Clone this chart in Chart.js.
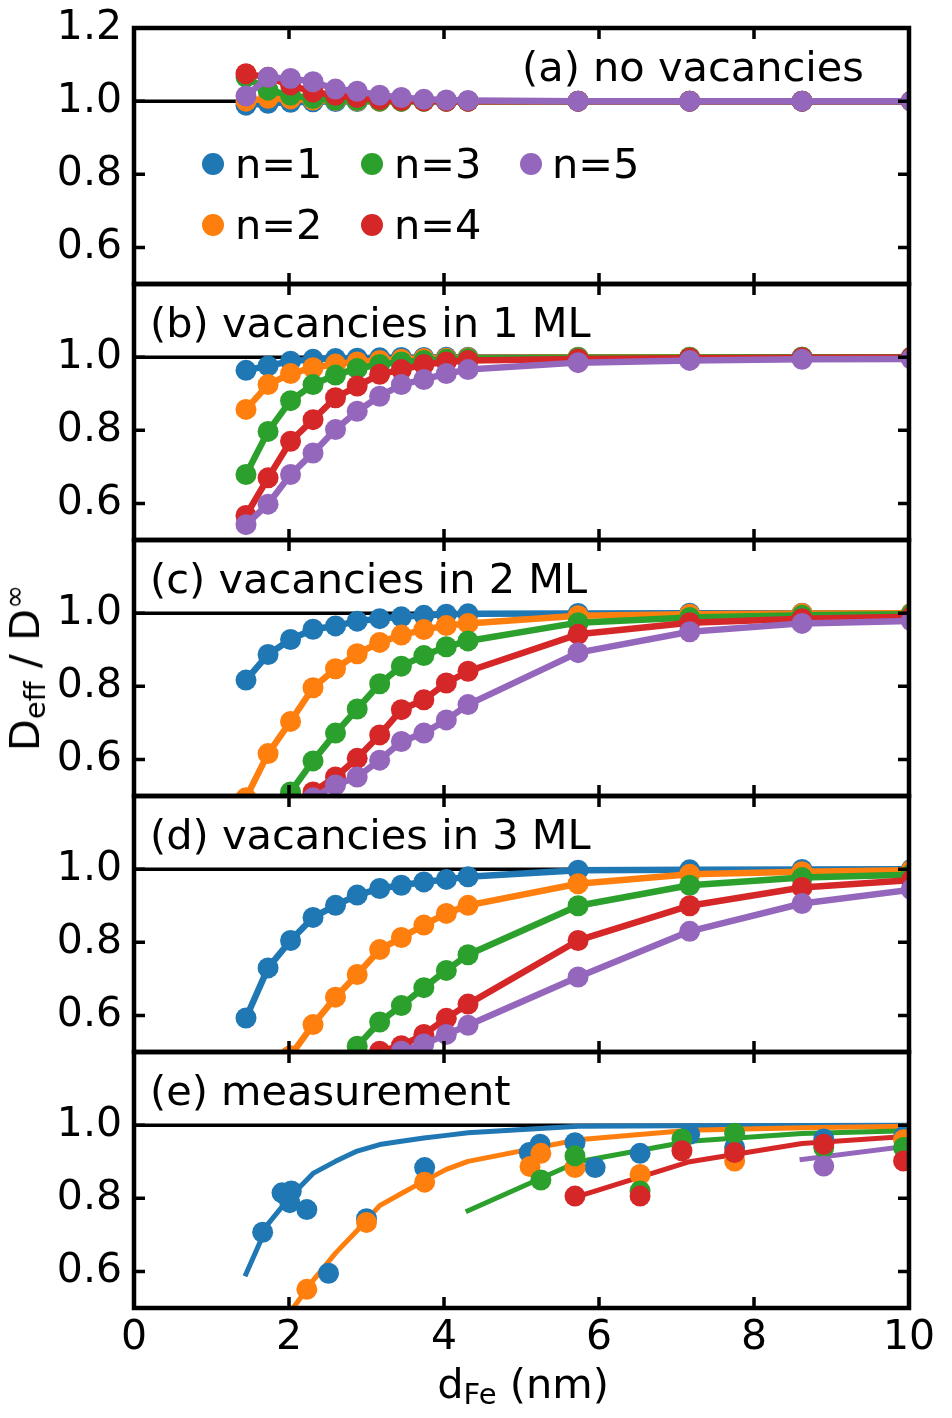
<!DOCTYPE html>
<html>
<head>
<meta charset="utf-8">
<script src="https://cdn.jsdelivr.net/npm/chart.js@4.4.1/dist/chart.umd.min.js"></script>
<style>
  html, body { margin:0; padding:0; background:#fff; }
  body { width:952px; height:1418px; position:relative; overflow:hidden; font-family:'DejaVu Sans'; color:#000; }
  canvas { position:absolute; left:0; top:0; }
  .txt { position:absolute; font-size:41.5px; line-height:42px; white-space:nowrap; z-index:10; }
  .dot { position:absolute; width:22px; height:22px; border-radius:50%; z-index:10; }
  .sub { position:relative; top:0.22em; font-size:0.7em; }
  .sup { position:relative; top:-0.5em; font-size:0.7em; }
</style>
</head>
<body>
<canvas id="ca" width="952" height="1418"></canvas>
<canvas id="cb" width="952" height="1418"></canvas>
<canvas id="cc" width="952" height="1418"></canvas>
<canvas id="cd" width="952" height="1418"></canvas>
<canvas id="ce" width="952" height="1418"></canvas>

<div class="txt" style="right:88px; top:46px;">(a) no vacancies</div>
<div class="txt" style="left:150px; top:302px;">(b) vacancies in 1 ML</div>
<div class="txt" style="left:150px; top:558px;">(c) vacancies in 2 ML</div>
<div class="txt" style="left:150px; top:814px;">(d) vacancies in 3 ML</div>
<div class="txt" style="left:150px; top:1070px;">(e) measurement</div>

<div class="dot" style="left:202px; top:153px; background:#1f77b4;"></div>
<div class="txt" style="left:235px; top:143px;">n=1</div>
<div class="dot" style="left:361px; top:153px; background:#2ca02c;"></div>
<div class="txt" style="left:394px; top:143px;">n=3</div>
<div class="dot" style="left:520px; top:153px; background:#9467bd;"></div>
<div class="txt" style="left:552px; top:143px;">n=5</div>
<div class="dot" style="left:202px; top:214px; background:#ff7f0e;"></div>
<div class="txt" style="left:235px; top:204px;">n=2</div>
<div class="dot" style="left:361px; top:214px; background:#d62728;"></div>
<div class="txt" style="left:394px; top:204px;">n=4</div>

<div class="txt" style="left:523px; top:1363px; transform:translateX(-50%);">d<span class="sub">Fe</span> (nm)</div>
<div class="txt" style="left:27px; top:668px; transform:translate(-50%,-50%) rotate(-90deg);">D<span class="sub">eff</span> / D<span class="sup">∞</span></div>

<script>
// ---------------- data ----------------
const dFe = [1.445, 1.73, 2.02, 2.31, 2.60, 2.88, 3.17, 3.45, 3.74, 4.03, 4.31, 5.73, 7.17, 8.62, 10.03];

// (a) no vacancies
const a_n1 = [0.989, 0.994, 0.997, 0.998, 0.999, 0.999, 1.0, 1.0, 1.0, 1.0, 1.0, 1.0, 1.0, 1.0, 1.0];
const a_n2 = [1.000, 1.008, 1.006, 1.003, 1.002, 1.001, 1.0, 1.0, 1.0, 1.0, 1.0, 1.0, 1.0, 1.0, 1.0];
const a_n3 = [1.066, 1.030, 1.016, 1.007, 1.003, 1.002, 1.001, 1.0, 1.0, 1.0, 1.0, 1.0, 1.0, 1.0, 1.0];
const a_n4 = [1.075, 1.065, 1.044, 1.025, 1.016, 1.010, 1.004, 1.002, 1.001, 1.0, 1.0, 1.0, 1.0, 1.0, 1.0];
const a_n5 = [1.014, 1.065, 1.062, 1.053, 1.033, 1.027, 1.016, 1.010, 1.005, 1.003, 1.002, 1.0, 1.0, 1.0, 1.0];

// (b) vacancies in 1 ML
const b_n1 = [0.964, 0.976, 0.989, 0.994, 0.996, 0.997, 0.998, 0.999, 0.999, 1.0, 1.0, 1.0, 1.0, 1.0, 1.0];
const b_n2 = [0.857, 0.925, 0.955, 0.971, 0.981, 0.987, 0.991, 0.994, 0.996, 0.997, 0.998, 0.999, 1.0, 1.0, 1.0];
const b_n3 = [0.679, 0.797, 0.881, 0.925, 0.951, 0.969, 0.980, 0.987, 0.991, 0.994, 0.996, 0.998, 0.999, 1.0, 1.0];
const b_n4 = [0.567, 0.670, 0.770, 0.829, 0.889, 0.921, 0.953, 0.966, 0.980, 0.987, 0.991, 0.995, 0.997, 0.998, 0.999];
const b_n5 = [0.542, 0.598, 0.679, 0.738, 0.802, 0.852, 0.893, 0.925, 0.939, 0.955, 0.966, 0.985, 0.991, 0.994, 0.995];

// (c) vacancies in 2 ML
const c_n1 = [0.817, 0.887, 0.928, 0.956, 0.965, 0.978, 0.985, 0.990, 0.994, 0.997, 0.998, 0.999, 1.0, 1.0, 1.0];
const c_n2 = [0.495, 0.616, 0.704, 0.796, 0.848, 0.889, 0.920, 0.940, 0.955, 0.966, 0.972, 0.993, 0.997, 0.999, 1.0];
const c_n3 = [0.30, 0.40, 0.511, 0.596, 0.672, 0.738, 0.807, 0.855, 0.884, 0.908, 0.924, 0.974, 0.988, 0.994, 0.997];
const c_n4 = [0.25, 0.33, 0.43, 0.511, 0.552, 0.603, 0.667, 0.736, 0.763, 0.809, 0.841, 0.942, 0.974, 0.985, 0.990];
const c_n5 = [0.22, 0.30, 0.40, 0.495, 0.530, 0.552, 0.598, 0.649, 0.672, 0.708, 0.750, 0.892, 0.949, 0.972, 0.979];

// (d) vacancies in 3 ML
const d_n1 = [0.593, 0.730, 0.805, 0.868, 0.901, 0.929, 0.947, 0.956, 0.965, 0.972, 0.979, 0.997, 0.998, 0.999, 1.0];
const d_n2 = [0.35, 0.43, 0.49, 0.575, 0.650, 0.712, 0.780, 0.813, 0.847, 0.879, 0.901, 0.960, 0.986, 0.993, 0.997];
const d_n3 = [0.20, 0.28, 0.35, 0.41, 0.46, 0.516, 0.582, 0.627, 0.676, 0.723, 0.766, 0.900, 0.956, 0.977, 0.985];
const d_n4 = [0.15, 0.22, 0.28, 0.34, 0.40, 0.45, 0.502, 0.517, 0.548, 0.592, 0.631, 0.805, 0.900, 0.950, 0.970];
const d_n5 = [0.13, 0.20, 0.26, 0.31, 0.36, 0.41, 0.46, 0.502, 0.522, 0.548, 0.573, 0.705, 0.830, 0.906, 0.944];

// (e) measurement: fit curves start index into dFe / d_n* arrays
const e_fitStart = [0, 2, 10, 11, 13];
const e_n1_x = [1.66, 1.91, 2.03, 2.01, 2.23, 2.51, 3.00, 3.75, 5.10, 5.24, 5.69, 5.95, 6.53, 7.17, 7.75, 8.90, 9.93];
const e_n1_y = [0.707, 0.815, 0.820, 0.788, 0.769, 0.595, 0.744, 0.884, 0.925, 0.948, 0.952, 0.884, 0.923, 0.975, 0.939, 0.962, 0.969];
const e_n2_x = [2.23, 3.00, 3.75, 5.11, 5.25, 5.69, 6.53, 7.75, 9.93];
const e_n2_y = [0.551, 0.734, 0.844, 0.887, 0.923, 0.884, 0.865, 0.902, 0.960];
const e_n3_x = [5.25, 5.69, 6.53, 7.07, 7.75, 8.90, 9.93];
const e_n3_y = [0.850, 0.916, 0.820, 0.962, 0.978, 0.939, 0.939];
const e_n4_x = [5.69, 6.53, 7.07, 7.75, 8.90, 9.93];
const e_n4_y = [0.806, 0.806, 0.930, 0.925, 0.948, 0.902];
const e_n5_x = [8.90];
const e_n5_y = [0.888];

const xTickVals = [0, 2, 4, 6, 8, 10];
const yTicksTop = [0.6, 0.8, 1.0, 1.2];
const yTicksRest = [0.6, 0.8, 1.0];

// ---------------- styling ----------------
const COLORS = ['#1f77b4', '#ff7f0e', '#2ca02c', '#d62728', '#9467bd'];
const W = 952, H = 1418;
const PLOT_L = 134, PLOT_R = 909;
const PANEL_TOPS = [28, 284, 540, 796, 1052];
const PANEL_H = 256;
const LW = 6.5, LW_FIT = 5, PR = 10.5;

Chart.defaults.font.family = "'DejaVu Sans'";
Chart.defaults.font.size = 41;
Chart.defaults.color = '#000';

function zipXY(xs, ys) { return xs.map((x, i) => ({x: x, y: ys[i]})); }

function simSets(arrs) {
  return arrs.map((ys, i) => ({
    data: zipXY(dFe, ys),
    borderColor: COLORS[i], backgroundColor: COLORS[i],
    borderWidth: LW, borderJoinStyle: 'round',
    pointRadius: PR, pointBorderWidth: 0, pointBackgroundColor: COLORS[i],
    pointHoverRadius: PR, tension: 0, clip: 0, order: 10 - i
  }));
}

const framePlugin = {
  id: 'frame',
  beforeDatasetsDraw(chart) {
    const {ctx, chartArea: a, scales} = chart;
    const y1 = scales.y.getPixelForValue(1.0);
    ctx.save();
    ctx.strokeStyle = '#000'; ctx.lineWidth = 3.5;
    ctx.beginPath(); ctx.moveTo(a.left, y1); ctx.lineTo(a.right, y1); ctx.stroke();
    ctx.restore();
  },
  afterDatasetsDraw(chart, args, opts) {
    const {ctx, chartArea: a, scales} = chart;
    ctx.save();
    ctx.strokeStyle = '#000';
    ctx.lineWidth = 3.5;
    ctx.lineCap = 'butt';
    const TL = 11;
    ctx.beginPath();
    xTickVals.forEach(v => {
      const px = scales.x.getPixelForValue(v);
      ctx.moveTo(px, a.top); ctx.lineTo(px, a.top + TL);
      ctx.moveTo(px, a.bottom); ctx.lineTo(px, a.bottom - TL);
    });
    opts.yt.forEach(v => {
      const py = scales.y.getPixelForValue(v);
      ctx.moveTo(a.left, py); ctx.lineTo(a.left + TL, py);
      ctx.moveTo(a.right, py); ctx.lineTo(a.right - TL, py);
    });
    ctx.stroke();
    ctx.lineWidth = 4.5;
    ctx.strokeRect(a.left, a.top, a.right - a.left, a.bottom - a.top);
    ctx.restore();
  }
};

function makeChart(id, idx, datasets) {
  const top = PANEL_TOPS[idx];
  const bottom = top + PANEL_H;
  const isBottom = idx === 4;
  const yt = idx === 0 ? yTicksTop : yTicksRest;
  return new Chart(document.getElementById(id), {
    type: 'line',
    data: { datasets },
    options: {
      responsive: false, animation: false, events: [],
      devicePixelRatio: 1,
      layout: { autoPadding: false, padding: { left: 0, right: W - PLOT_R, top: top, bottom: isBottom ? 0 : H - bottom } },
      plugins: { legend: { display: false }, tooltip: { enabled: false }, frame: { yt } },
      scales: {
        x: {
          type: 'linear', min: 0, max: 10, position: 'bottom',
          grid: { display: false, drawTicks: false }, border: { display: false },
          afterBuildTicks: s => { s.ticks = xTickVals.map(v => ({value: v})); },
          ticks: { display: isBottom, padding: 6, maxRotation: 0, autoSkip: false, callback: v => String(v) },
          afterFit: s => { s.height = isBottom ? H - bottom : 0; s.paddingLeft = 0; s.paddingRight = 0; }
        },
        y: {
          type: 'linear', min: 0.5, max: 1.2, position: 'left',
          grid: { display: false, drawTicks: false }, border: { display: false },
          afterBuildTicks: s => { s.ticks = yt.map(v => ({value: v})); },
          ticks: { padding: 12, autoSkip: false, callback: v => Number(v).toFixed(1) },
          afterFit: s => { s.width = PLOT_L; s.paddingTop = 0; s.paddingBottom = 0; }
        }
      }
    },
    plugins: [framePlugin]
  });
}

makeChart('ca', 0, simSets([a_n1, a_n2, a_n3, a_n4, a_n5]));
makeChart('cb', 1, simSets([b_n1, b_n2, b_n3, b_n4, b_n5]));
makeChart('cc', 2, simSets([c_n1, c_n2, c_n3, c_n4, c_n5]));
makeChart('cd', 3, simSets([d_n1, d_n2, d_n3, d_n4, d_n5]));

// panel (e): fit lines (from panel d curves) + measured points
const fitArrs = [d_n1, d_n2, d_n3, d_n4, d_n5];
const measX = [e_n1_x, e_n2_x, e_n3_x, e_n4_x, e_n5_x];
const measY = [e_n1_y, e_n2_y, e_n3_y, e_n4_y, e_n5_y];
const eSets = [];
fitArrs.forEach((ys, i) => {
  const s = e_fitStart[i];
  eSets.push({
    data: zipXY(dFe.slice(s), ys.slice(s)),
    borderColor: COLORS[i], borderWidth: LW_FIT, borderJoinStyle: 'round', borderCapStyle: 'square',
    pointRadius: 0, tension: 0, clip: 0, order: 20 - i
  });
});
measX.forEach((xs, i) => {
  eSets.push({
    data: zipXY(xs, measY[i]),
    showLine: false, borderColor: COLORS[i], backgroundColor: COLORS[i],
    pointRadius: PR, pointBorderWidth: 0, pointBackgroundColor: COLORS[i],
    clip: 0, order: 10 - i
  });
});
makeChart('ce', 4, eSets);
</script>
</body>
</html>
